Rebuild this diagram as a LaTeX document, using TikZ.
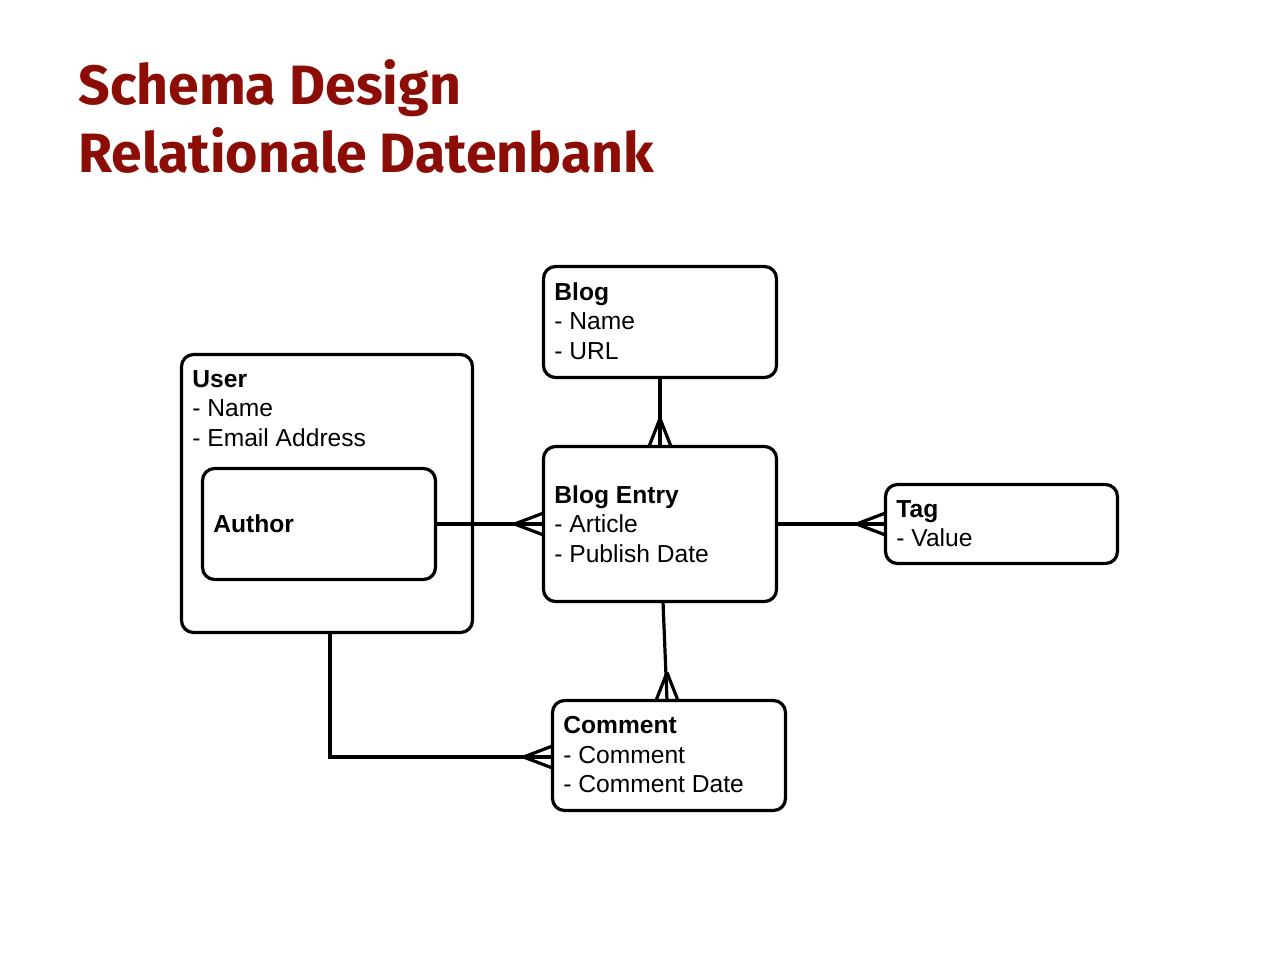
\documentclass[tikz,border=0pt]{standalone}
\usepackage{fontspec}
\setmainfont{Liberation Sans}
\newfontfamily\titlefont{Fira Sans}
\usetikzlibrary{calc}
\definecolor{titlered}{HTML}{8C0D05}
\begin{document}
\begin{tikzpicture}[x=0.5pt,y=-0.5pt,
  ent/.style={draw, line width=1.6pt, rounded corners=6pt, anchor=north west, inner sep=0pt, outer sep=0pt},
  txt/.style={anchor=north west, inner sep=0pt, align=left, font=\fontsize{12.3}{14.75}\selectfont},
  conn/.style={line width=1.6pt},
  ttl/.style={anchor=base west, inner sep=0pt, text=titlered, font=\titlefont\bfseries\fontsize{27.7}{34}\selectfont}]
\useasboundingbox[fill=white] (0,0) rectangle (1280,960);

% title
\node[ttl] (t1) at (78,104) {Schema Design};
\node[ttl] (t2) at (78,172) {Relationale Datenbank};

% entity boxes
\node[ent, minimum width=116.5pt, minimum height=55.5pt] (blog) at (543.5,266.5) {};
\node[ent, minimum width=145.5pt, minimum height=139pt] (user) at (181.5,354.5) {};
\node[ent, minimum width=116.5pt, minimum height=55.5pt] (author) at (202.5,468.5) {};
\node[ent, minimum width=116.5pt, minimum height=77.5pt] (be) at (543.5,446.5) {};
\node[ent, minimum width=116pt, minimum height=39.5pt] (tag) at (885.5,484.5) {};
\node[ent, minimum width=116.5pt, minimum height=55pt] (cm) at (552.5,700.5) {};

% texts
\node[txt] (blogtxt) at (554,282) {\textbf{Blog}\\- Name\\- URL};
\node[txt] (usertxt) at (192,370) {\textbf{User}\\- Name\\- Email Address};
\node[txt] (authortxt) at (213,514) {\textbf{Author}};
\node[txt] (betxt) at (554,485) {\textbf{Blog Entry}\\- Article\\- Publish Date};
\node[txt] (tagtxt) at (896,500) {\textbf{Tag}\\- Value};
\node[txt] (cmtxt) at (563,716) {\textbf{Comment}\\- Comment\\- Comment Date};

% connectors
\draw[conn] (blog.south) -- (be.north);
\draw[conn] ($(be.north)+(0,-28)$) -- ($(be.north)+(-11,0)$);
\draw[conn] ($(be.north)+(0,-28)$) -- ($(be.north)+(11,0)$);

\draw[conn] (author.east) -- (be.west);
\draw[conn] ($(be.west)+(-29,0)$) -- ($(be.west)+(0,-11)$);
\draw[conn] ($(be.west)+(-29,0)$) -- ($(be.west)+(0,11)$);

\draw[conn] (be.east) -- (tag.west);
\draw[conn] ($(tag.west)+(-29,0)$) -- ($(tag.west)+(0,-11)$);
\draw[conn] ($(tag.west)+(-29,0)$) -- ($(tag.west)+(0,11)$);

\coordinate (cmtop) at ([xshift=-1pt]cm.north);
\draw[conn] ([xshift=1.5pt]be.south) -- (cmtop);
\draw[conn] ($(cmtop)+(0,-28)$) -- ($(cmtop)+(-11,0)$);
\draw[conn] ($(cmtop)+(0,-28)$) -- ($(cmtop)+(11,0)$);

\coordinate (cmleft) at ([yshift=-0.75pt]cm.west);
\draw[conn] ([xshift=1.5pt]user.south) |- (cmleft);
\draw[conn] ($(cmleft)+(-29,0)$) -- ($(cmleft)+(0,-11)$);
\draw[conn] ($(cmleft)+(-29,0)$) -- ($(cmleft)+(0,11)$);
\end{tikzpicture}
\end{document}
